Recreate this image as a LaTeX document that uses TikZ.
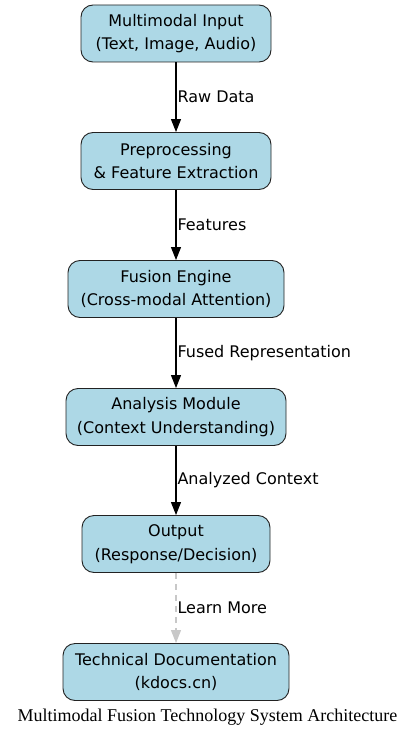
\documentclass[tikz,border=0pt]{standalone}
\usepackage{fontspec}
\setmainfont{DejaVu Sans}
\newfontfamily\titlefont{Liberation Serif}
\usetikzlibrary{arrows.meta}
\definecolor{boxfill}{HTML}{ADD8E6}
\definecolor{boxline}{HTML}{222222}
\definecolor{lightedge}{HTML}{C8C8C8}
\begin{document}
\begin{tikzpicture}[x=1pt,y=-1pt,
  box/.style={draw=boxline, fill=boxfill, rounded corners=12pt, line width=0.9pt,
    minimum height=57pt, align=center, inner sep=0pt, font=\fontsize{16}{23.5}\selectfont},
  conn/.style={line width=1.1pt, -{Triangle[length=13pt,width=10pt]}},
  soft/.style={line width=1.1pt, draw=lightedge, dash pattern=on 6pt off 5pt, -{Triangle[length=13pt,width=10pt,fill=lightedge]}},
  elabel/.style={anchor=west, inner sep=0pt, font=\fontsize{16}{18}\selectfont}]
\useasboundingbox (0,0) rectangle (415,738);
\node[box, minimum width=190pt] (in) at (176,33.5) {Multimodal Input\\(Text, Image, Audio)};
\node[box, minimum width=190pt] (pre) at (176,161) {Preprocessing\\\& Feature Extraction};
\node[box, minimum width=216pt] (fus) at (176,289) {Fusion Engine\\(Cross-modal Attention)};
\node[box, minimum width=220pt] (ana) at (176,417) {Analysis Module\\(Context Understanding)};
\node[box, minimum width=188pt] (out) at (176,544) {Output\\(Response/Decision)};
\node[box, minimum width=226pt] (doc) at (176,672) {Technical Documentation\\(kdocs.cn)};
\draw[conn] (in) -- node[elabel, pos=0.5, xshift=1pt] {Raw Data} (pre);
\draw[conn] (pre) -- node[elabel, pos=0.5, xshift=1pt] {Features} (fus);
\draw[conn] (fus) -- node[elabel, pos=0.5, xshift=1pt] {Fused Representation} (ana);
\draw[conn] (ana) -- node[elabel, pos=0.5, xshift=1pt] {Analyzed Context} (out);
\draw[soft] (out) -- node[elabel, pos=0.5, xshift=1pt, text=black] {Learn More} (doc);
\node[font=\titlefont\fontsize{18}{20}\selectfont, inner sep=0pt] (title) at (207.5,717) {Multimodal Fusion Technology System Architecture};
\end{tikzpicture}
\end{document}
